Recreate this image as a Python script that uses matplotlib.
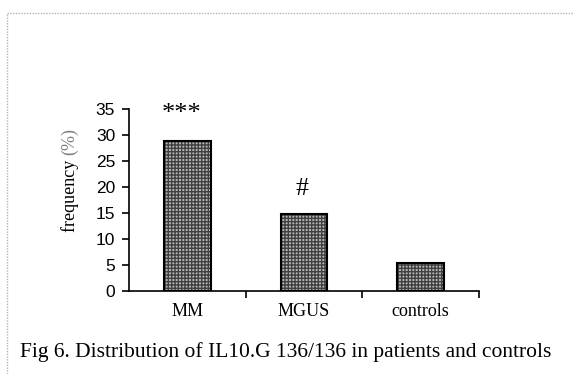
import matplotlib.pyplot as plt
from matplotlib.lines import Line2D

groups = ["MM", "MGUS", "controls"]
freq = [28.9, 14.8, 5.4]
marks = ["***", "#", ""]
yticks = [0, 5, 10, 15, 20, 25, 30, 35]
caption = "Fig 6. Distribution of IL10.G 136/136 in patients and controls"

W, H = 573, 374
fig = plt.figure(figsize=(W / 100, H / 100), dpi=100)
ax = fig.add_axes([129 / W, 1 - 291 / H, 350 / W, 182 / H])

x = list(range(len(groups)))
# checkered fill, then a black outline on top
ax.bar(x, freq, width=0.4, color="#b8b8b8", edgecolor="#404040", hatch="+++++", linewidth=0)
ax.bar(x, freq, width=0.4, fill=False, edgecolor="black", linewidth=1.5)

# significance marks (stars sit high in their em box, so offsets differ)
ax.text(x[0] - 0.05, freq[0] + 4.0, marks[0], ha="center", va="baseline", fontsize=19,
        family="Liberation Serif")
ax.text(x[1] - 0.02, freq[1] + 3.7, marks[1], ha="center", va="baseline", fontsize=18.5,
        family="Liberation Serif")

ax.set_xlim(-0.5, 2.5)
ax.set_ylim(0, 35)
ax.set_yticks(yticks)
ax.set_xticks(x)
ax.set_xticklabels(groups, family="Liberation Serif", fontsize=13)
ax.set_xticks([0.5, 1.5, 2.5], minor=True)
ax.tick_params(axis="x", which="major", length=0, pad=9)
ax.tick_params(axis="x", which="minor", length=5, width=1.2, direction="out")
ax.tick_params(axis="y", length=5, width=1.2, direction="out", labelsize=12.5, pad=5)
for lab in ax.get_yticklabels():
    lab.set_family("Liberation Sans")
for s in ["top", "right"]:
    ax.spines[s].set_visible(False)
for s in ["left", "bottom"]:
    ax.spines[s].set_linewidth(1.2)

fig.text(70 / W, 1 - 155 / H, "frequency ", rotation=90, ha="center", va="top",
         family="Liberation Serif", fontsize=13)
fig.text(70 / W, 1 - 155 / H, "(%)", rotation=90, ha="center", va="bottom",
         family="Liberation Serif", fontsize=13, color="#808080")

fig.text(20 / W, 1 - 352 / H, caption, ha="left", va="center",
         family="Liberation Serif", fontsize=15.5)

# page border of the original scan
fig.add_artist(Line2D([7 / W, 1], [1 - 13 / H, 1 - 13 / H], color="#b4b4b4", lw=1, ls=(0, (1, 1))))
fig.add_artist(Line2D([7 / W, 7 / W], [0, 1 - 13 / H], color="#b4b4b4", lw=1, ls=(0, (1, 1))))

fig.savefig("out.png", dpi=100)
